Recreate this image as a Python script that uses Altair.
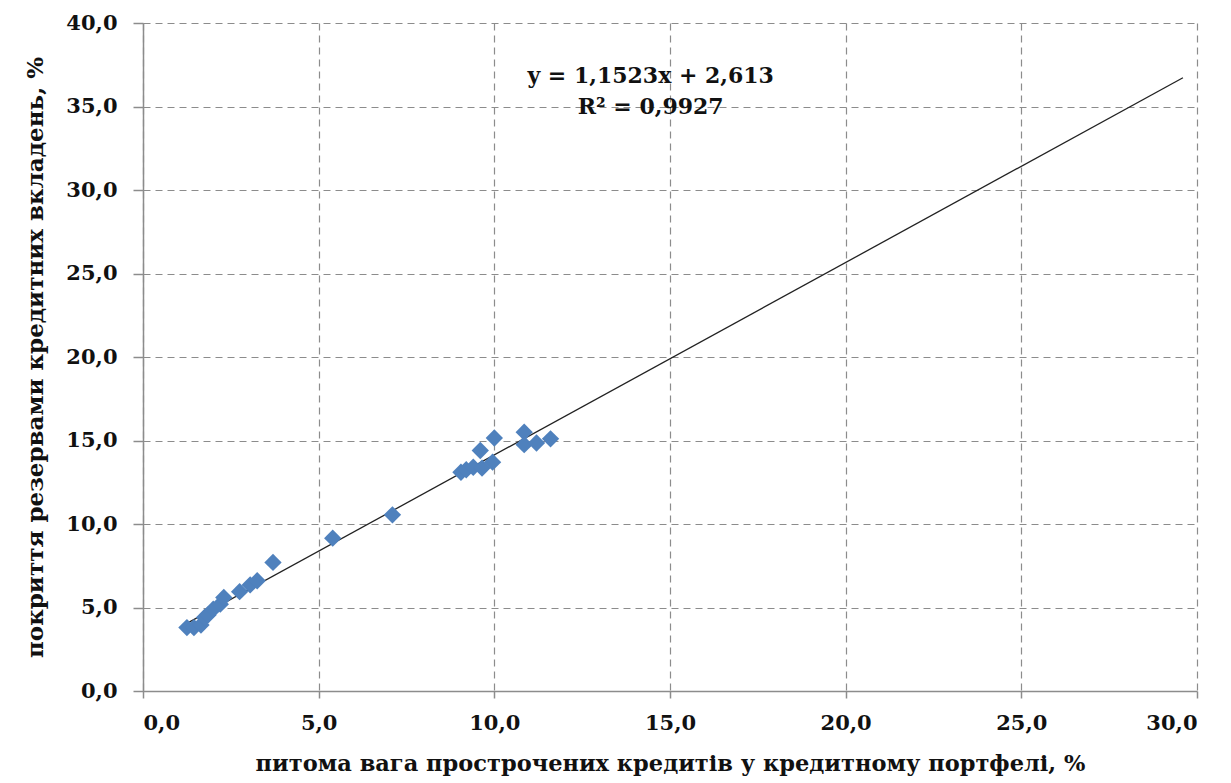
import altair as alt
import pandas as pd

# Data
x_vals = [1.25, 1.45, 1.65, 1.75, 1.85, 2.0, 2.2, 2.3, 2.75, 3.05, 3.25, 3.7,
          5.4, 7.1, 9.05, 9.2, 9.4, 9.6, 9.65, 9.95, 10.0, 10.85, 10.85, 11.2, 11.6]
y_vals = [3.8, 3.8, 3.95, 4.4, 4.55, 4.9, 5.2, 5.6, 5.95, 6.35, 6.6, 7.7,
          9.15, 10.55, 13.1, 13.25, 13.4, 14.4, 13.35, 13.7, 15.15, 15.5, 14.75, 14.85, 15.1]

trend_x = [1.25, 29.6]
slope = 1.1523
intercept = 2.613
eq_lines = ["y = 1,1523x + 2,613", "R² = 0,9927"]
eq_x = [14.45, 14.45]
eq_y = [36.8, 35.0]

x_title = "питома вага прострочених кредитів у кредитному портфелі, %"
y_title = "покриття резервами кредитних вкладень, %"

FONT = "DejaVu Serif"
pts = pd.DataFrame({"x": x_vals, "y": y_vals})
trend = pd.DataFrame({"x": trend_x})
eq = pd.DataFrame({"x": eq_x, "y": eq_y, "t": eq_lines})

lab = "replace(format(datum.value, '.1f'), '.', ',')"
xs = alt.Scale(domain=[0, 30], nice=False, zero=False)
ys = alt.Scale(domain=[0, 40], nice=False, zero=False)

xax = alt.Axis(values=[0, 5, 10, 15, 20, 25, 30], labelExpr=lab, title=x_title,
               tickSize=7, labelPadding=14, titlePadding=19, titleFontSize=22.5)
yax = alt.Axis(values=[0, 5, 10, 15, 20, 25, 30, 35, 40], labelExpr=lab, title=y_title,
               tickSize=10, labelPadding=16, titlePadding=18, titleFontSize=23)

points = alt.Chart(pts).mark_point(shape="diamond", filled=True, size=300,
                                   color="#4F81BD", opacity=1).encode(
    x=alt.X("x:Q", scale=xs, axis=xax),
    y=alt.Y("y:Q", scale=ys, axis=yax),
)

line = alt.Chart(trend).transform_calculate(
    yy=f"{slope} * datum.x + {intercept}"
).mark_line(color="#222222", strokeWidth=1.3).encode(
    x=alt.X("x:Q", scale=xs),
    y=alt.Y("yy:Q", scale=ys),
)

text = alt.Chart(eq).mark_text(font=FONT, fontSize=22, fontWeight="bold",
                               color="#111111", align="center", baseline="middle").encode(
    x=alt.X("x:Q", scale=xs),
    y=alt.Y("y:Q", scale=ys),
    text="t:N",
)

chart = alt.layer(line, points, text).properties(
    width=1054, height=668,
    autosize=alt.AutoSizeParams(type="none"),
    padding={"left": 143, "top": 23, "right": 34, "bottom": 92},
    background="white",
).configure_view(stroke=None).configure_axis(
    labelFont=FONT, labelFontSize=21, labelFontWeight="bold", labelColor="#111111",
    titleFont=FONT, titleFontWeight="bold", titleColor="#111111",
    domainColor="#8c8c8c", domainWidth=1.5, tickColor="#8c8c8c", tickWidth=1.5,
    gridColor="#8c8c8c", gridWidth=1.2, gridDash=[7, 5],
)

chart.save("out.html", embed_options={"renderer": "svg", "actions": False})
